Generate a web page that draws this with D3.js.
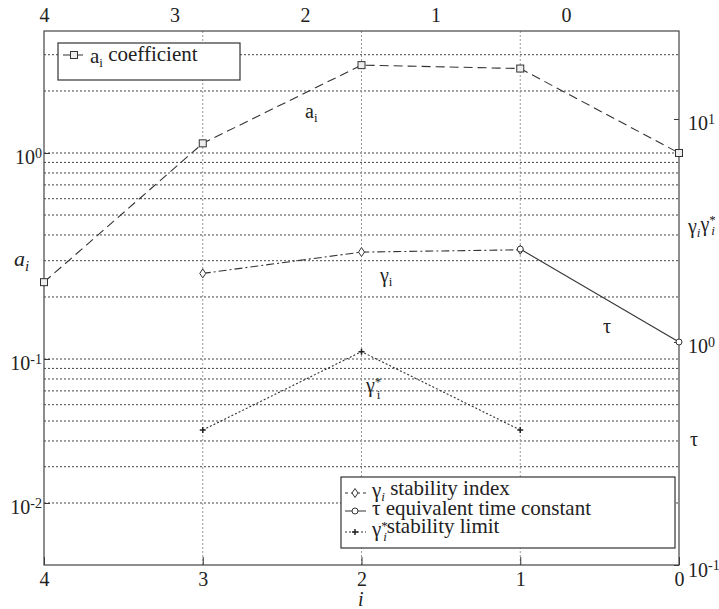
<!doctype html>
<html>
<head>
<script src="https://d3js.org/d3.v7.min.js"></script>
<style>
  body { margin: 0; background: #fff; }
  text { fill: #222; }
  .axis path.domain { stroke: none; }
  .axis line { stroke: #333; }
</style>
</head>
<body>
<svg id="chart" width="719" height="609"></svg>
<script>
// data
var idxA = [4, 3, 2, 1, 0];
var aCoef = [0.236, 1.114, 2.67, 2.57, 1.0];          // left axis
var idxGamma = [3, 2, 1];
var gammaIdx = [2.03, 2.53, 2.59];                    // right axis
var idxTau = [1, 0];
var tauVals = [2.61, 1.0];                            // right axis
var idxGstar = [3, 2, 1];
var gammaStar = [0.403, 0.905, 0.403];                // right axis

var xTicks = [4, 3, 2, 1, 0];
var leftTicks = [1, 0.1, 0.02];
var leftTickExp = ["0", "-1", "-2"];
var rightTicks = [10, 1, 0.1];
var rightTickExp = ["1", "0", "-1"];
var leftGrid = [3, 2, 1, 0.9, 0.8, 0.7, 0.6, 0.5, 0.4, 0.3, 0.2,
                0.1, 0.09, 0.08, 0.07, 0.06, 0.05, 0.04, 0.03, 0.02];

// pick an installed serif face (fallback stack otherwise)
function hasFont(name) {
  var c = document.createElement("canvas").getContext("2d");
  var s = "abcdefghijklmnopqrstuvwxyz0123456789";
  c.font = "40px monospace"; var w0 = c.measureText(s).width;
  c.font = "40px '" + name + "', monospace"; var w1 = c.measureText(s).width;
  return w0 !== w1;
}
var serifs = ["Liberation Serif", "DejaVu Serif", "Noto Serif", "Times New Roman", "Tinos", "FreeSerif", "Nimbus Roman"];
var found = serifs.filter(hasFont);
var FONT = found.length ? "'" + found[0] + "', serif" : "serif";
d3.select("#chart").style("font-family", FONT);

var L = 44, R = 679, T = 31, B = 565;
var svg = d3.select("#chart");

var x = d3.scaleLinear().domain([4, 0]).range([L, R]);
var xTop = d3.scaleLinear().domain([4, -0.866]).range([L, R]);
var yL = d3.scaleLog().domain([0.01, 3.91]).range([B, T]);
var yR = d3.scaleLog().domain([0.1, 24.8]).range([B, T]);

// grid
svg.append("g").selectAll("line.hg").data(leftGrid).enter().append("line")
  .attr("x1", L).attr("x2", R)
  .attr("y1", d => yL(d)).attr("y2", d => yL(d))
  .attr("stroke", "#444").attr("stroke-width", 1).attr("stroke-dasharray", "2,2");
svg.append("g").selectAll("line.vg").data([3, 2, 1]).enter().append("line")
  .attr("x1", d => x(d)).attr("x2", d => x(d))
  .attr("y1", T).attr("y2", B)
  .attr("stroke", "#999").attr("stroke-width", 1).attr("stroke-dasharray", "2,2");

// axes
var xAxis = d3.axisBottom(x).tickValues(xTicks).tickSize(-8).tickPadding(7).tickFormat(d3.format("d"));
svg.append("g").attr("class", "axis").attr("transform", "translate(0," + B + ")").call(xAxis)
  .call(g => g.attr("font-family", null))
  .selectAll("text").style("font-size", "20px");
var topAxis = d3.axisTop(xTop).tickValues(xTicks).tickSize(0).tickPadding(9).tickFormat(d3.format("d"));
svg.append("g").attr("class", "axis").attr("transform", "translate(0," + T + ")").call(topAxis)
  .call(g => g.attr("font-family", null))
  .selectAll("text").style("font-size", "20px");

function powLabels(g, exps, anchor) {
  g.attr("font-family", null);
  g.selectAll("text").each(function(d, i) {
    var t = d3.select(this).text("").attr("text-anchor", anchor).attr("dy", "0.55em").style("font-size", "20px");
    t.append("tspan").text("10");
    t.append("tspan").attr("dy", "-0.45em").style("font-size", "14px").text(exps[i]);
  });
}
var yAxisL = d3.axisLeft(yL).tickValues(leftTicks).tickSize(-6).tickPadding(2);
svg.append("g").attr("class", "axis").attr("transform", "translate(" + L + ",0)").call(yAxisL)
  .call(g => powLabels(g, leftTickExp, "end"));
var yAxisR = d3.axisRight(yR).tickValues(rightTicks).tickSize(-5).tickPadding(9);
svg.append("g").attr("class", "axis").attr("transform", "translate(" + R + ",0)").call(yAxisR)
  .call(g => powLabels(g, rightTickExp, "start"));

// frame
svg.append("rect").attr("x", L).attr("y", T).attr("width", R - L).attr("height", B - T)
  .attr("fill", "none").attr("stroke", "#444").attr("stroke-width", 1.2);

// series
function series(xs, ys, yScale, dash) {
  var pts = xs.map((v, i) => [x(v), yScale(ys[i])]);
  svg.append("path").attr("d", d3.line()(pts)).attr("fill", "none")
    .attr("stroke", "#333").attr("stroke-width", 1.1).attr("stroke-dasharray", dash);
  return pts;
}
function square(g, px, py) {
  g.append("rect").attr("x", px - 3.5).attr("y", py - 3.5).attr("width", 7).attr("height", 7)
    .attr("fill", "#eee").attr("stroke", "#333").attr("stroke-width", 1);
}
function diamond(g, px, py) {
  g.append("path").attr("d", "M" + px + "," + (py - 4.5) + "L" + (px + 3) + "," + py + "L" + px + "," + (py + 4.5) + "L" + (px - 3) + "," + py + "Z")
    .attr("fill", "#fff").attr("stroke", "#333").attr("stroke-width", 1);
}
function circ(g, px, py) {
  g.append("circle").attr("cx", px).attr("cy", py).attr("r", 3)
    .attr("fill", "#fff").attr("stroke", "#333").attr("stroke-width", 1);
}
function star(g, px, py) {
  g.append("path").attr("d", "M" + (px - 3) + "," + py + "H" + (px + 3) + "M" + px + "," + (py - 3) + "V" + (py + 3))
    .attr("stroke", "#222").attr("stroke-width", 1.5);
}

var pa = series(idxA, aCoef, yL, "9,5");
var pg = series(idxGamma, gammaIdx, yR, "8,3,2,3");
var pt = series(idxTau, tauVals, yR, null);
var ps = series(idxGstar, gammaStar, yR, "2,2");
pa.forEach(p => square(svg, p[0], p[1]));
pg.forEach(p => diamond(svg, p[0], p[1]));
pt.forEach(p => circ(svg, p[0], p[1]));
ps.forEach(p => star(svg, p[0], p[1]));

// labels inside plot
function subLabel(px, py, base, sub, sup) {
  var t = svg.append("text").attr("x", px).attr("y", py).style("font-size", "20px");
  t.append("tspan").text(base);
  if (sup) t.append("tspan").attr("dy", "-0.5em").style("font-size", "13px").text(sup);
  if (sub) t.append("tspan").attr("dx", sup ? "-0.35em" : null).attr("dy", sup ? "1.0em" : "0.3em")
    .style("font-size", "13px").text(sub);
  return t;
}
subLabel(305, 118, "a", "i", null);
subLabel(380, 282, "\u03b3", "i", null);
subLabel(603, 333, "\u03c4", null, null);
subLabel(366, 392, "\u03b3", "i", "*");

// axis titles
svg.append("text").attr("x", 14).attr("y", 266).style("font-size", "22px").style("font-style", "italic")
  .text("a").append("tspan").attr("dy", "0.35em").style("font-size", "15px").text("i");
svg.append("text").attr("x", 358).attr("y", 606).style("font-size", "20px").style("font-style", "italic").text("i");
var rt = svg.append("text").attr("x", 688).attr("y", 233).style("font-size", "20px");
rt.append("tspan").text("\u03b3");
rt.append("tspan").attr("dy", "0.3em").style("font-size", "13px").style("font-style", "italic").text("i");
rt.append("tspan").attr("dy", "-0.3em").text("\u03b3");
rt.append("tspan").attr("dy", "-0.55em").style("font-size", "13px").text("*");
rt.append("tspan").attr("dx", "-0.35em").attr("dy", "0.85em").style("font-size", "13px").style("font-style", "italic").text("i");
svg.append("text").attr("x", 690).attr("y", 446).style("font-size", "20px").text("\u03c4");

// legend 1
var lg1 = svg.append("g");
lg1.append("rect").attr("x", 58).attr("y", 43).attr("width", 182).attr("height", 37)
  .attr("fill", "#fff").attr("stroke", "#333").attr("stroke-width", 1.2);
lg1.append("line").attr("x1", 63).attr("x2", 83).attr("y1", 55).attr("y2", 55)
  .attr("stroke", "#333").attr("stroke-dasharray", "9,5");
square(lg1, 74, 55);
var l1t = lg1.append("text").attr("x", 90).attr("y", 63).style("font-size", "21px");
l1t.append("tspan").text("a");
l1t.append("tspan").attr("dy", "0.3em").style("font-size", "13px").text("i");
l1t.append("tspan").attr("dy", "-0.3em").text(" coefficient");

// legend 2
var lg2 = svg.append("g");
lg2.append("rect").attr("x", 341).attr("y", 477).attr("width", 334).attr("height", 71)
  .attr("fill", "#fff").attr("stroke", "#333").attr("stroke-width", 1.2);
var rows = [
  {dash: "3,3", mk: diamond, y: 493, sym: "\u03b3", sub: "i", sup: null, label: " stability index"},
  {dash: null, mk: circ, y: 511, sym: "\u03c4", sub: null, sup: null, label: " equivalent time constant"},
  {dash: "2,2", mk: star, y: 532, sym: "\u03b3", sub: "i", sup: "*", label: "stability limit"}
];
rows.forEach(function(r) {
  lg2.append("line").attr("x1", 345).attr("x2", 366).attr("y1", r.y).attr("y2", r.y)
    .attr("stroke", "#333").attr("stroke-dasharray", r.dash);
  r.mk(lg2, 355, r.y);
  var t = lg2.append("text").attr("x", 372).attr("y", r.y + 4).style("font-size", "21px");
  t.append("tspan").text(r.sym);
  if (r.sup) {
    t.append("tspan").attr("dy", "-0.5em").style("font-size", "13px").text(r.sup);
    t.append("tspan").attr("dx", "-0.35em").attr("dy", "0.85em").style("font-size", "13px").style("font-style", "italic").text(r.sub);
    t.append("tspan").attr("dy", "-0.35em").text(r.label);
  } else if (r.sub) {
    t.append("tspan").attr("dy", "0.3em").style("font-size", "13px").style("font-style", "italic").text(r.sub);
    t.append("tspan").attr("dy", "-0.3em").text(r.label);
  } else {
    t.append("tspan").text(r.label);
  }
});
</script>
</body>
</html>
